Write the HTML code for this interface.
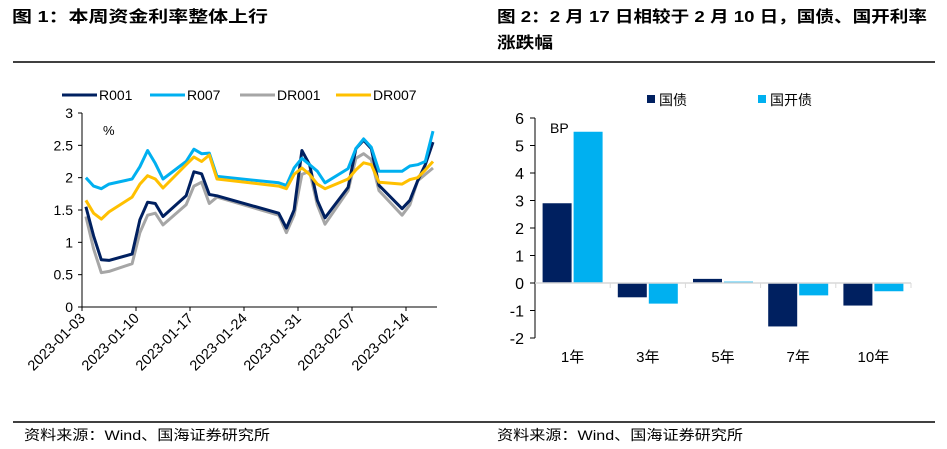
<!DOCTYPE html>
<html><head><meta charset="utf-8"><style>
html,body{margin:0;padding:0;background:#fff;}
svg{display:block;font-family:"Liberation Sans","Noto Sans CJK SC",sans-serif;}
</style></head><body>
<svg id="s" width="947" height="449" viewBox="0 0 947 449">
<text x="12" y="22" font-size="16" font-weight="bold" fill="#000" textLength="256" lengthAdjust="spacingAndGlyphs">图 1：本周资金利率整体上行</text>
<text x="497" y="22" font-size="16" font-weight="bold" fill="#000" textLength="430" lengthAdjust="spacingAndGlyphs">图 2：2 月 17 日相较于 2 月 10 日，国债、国开利率</text>
<text x="497" y="48" font-size="16" font-weight="bold" fill="#000" textLength="56" lengthAdjust="spacingAndGlyphs">涨跌幅</text>
<line x1="13" y1="62" x2="935" y2="62" stroke="#000" stroke-width="1.5"/>
<line x1="13" y1="422" x2="935" y2="422" stroke="#000" stroke-width="1.5"/>
<text x="24" y="440" font-size="14" fill="#000" textLength="246" lengthAdjust="spacingAndGlyphs">资料来源：Wind、国海证券研究所</text>
<text x="497" y="440" font-size="14" fill="#000" textLength="246" lengthAdjust="spacingAndGlyphs">资料来源：Wind、国海证券研究所</text>
<g id="lc"></g>
<g id="bc"></g>
</svg>
<script>
// ---- line chart data ----
const dayOffsets = [0,1,2,3,6,7,8,9,10,13,14,15,16,17,25,26,27,28,29,30,31,34,35,36,37,38,41,42,43,44,45];
const r001 = [1.55,1.1,0.73,0.72,0.82,1.35,1.62,1.6,1.4,1.72,2.09,2.06,1.74,1.72,1.45,1.22,1.5,2.42,2.2,1.65,1.38,1.85,2.45,2.58,2.45,1.88,1.52,1.65,1.95,2.2,2.55];
const r007 = [2.0,1.87,1.83,1.9,1.98,2.17,2.42,2.22,1.98,2.25,2.44,2.37,2.38,2.02,1.92,1.88,2.15,2.3,2.2,2.1,1.92,2.14,2.45,2.6,2.47,2.1,2.1,2.18,2.2,2.25,2.72];
const dr001 = [1.4,0.9,0.53,0.55,0.67,1.15,1.42,1.45,1.27,1.58,1.87,1.93,1.6,1.7,1.42,1.15,1.42,2.05,2.1,1.58,1.28,1.8,2.3,2.37,2.28,1.8,1.42,1.58,1.95,2.05,2.15];
const dr007 = [1.65,1.45,1.36,1.47,1.7,1.9,2.03,1.98,1.84,2.2,2.32,2.25,2.35,1.98,1.87,1.83,2.05,2.15,2.05,1.9,1.83,1.98,2.12,2.23,2.2,1.93,1.9,1.97,2.0,2.12,2.25];
const dateTicks = ["2023-01-03","2023-01-10","2023-01-17","2023-01-24","2023-01-31","2023-02-07","2023-02-14"];
const yTicks = [0,0.5,1,1.5,2,2.5,3];
// ---- bar chart data ----
const tenors = ["1年","3年","5年","7年","10年"];
const govBond = [2.9,-0.52,0.15,-1.58,-0.82];
const cdbBond = [5.5,-0.75,0.05,-0.45,-0.3];
const barTicks = [-2,-1,0,1,2,3,4,5,6];

const NS="http://www.w3.org/2000/svg";
function mk(parent,tag,attrs,text){const e=document.createElementNS(NS,tag);for(const k in attrs)e.setAttribute(k,attrs[k]);if(text!==undefined)e.textContent=text;parent.appendChild(e);return e;}

// line chart
const lc=document.getElementById('lc');
const X0=82,X1=437,Y0=307,Y3=113,dayW=54/7;
const lx=d=>X0+(d+0.5)*dayW;
const ly=v=>Y0-(v/3)*(Y0-Y3);
let e;
e=mk(lc,'line',{x1:X0,y1:Y3,x2:X0,y2:Y0,stroke:'#000','stroke-width':1});


e=mk(lc,'line',{x1:X0,y1:Y0,x2:X1,y2:Y0,stroke:'#000','stroke-width':1});


yTicks.forEach(t=>{
  mk(lc,'line',{x1:X0-4,y1:ly(t),x2:X0,y2:ly(t),stroke:'#000'});
  e=mk(lc,'text',{x:X0-9,y:ly(t)+5,'font-size':14,'text-anchor':'end',fill:'#000'},String(t));
  
  
});
dateTicks.forEach((t,i)=>{
  const x=X0+i*7*dayW;
  mk(lc,'line',{x1:x,y1:Y0,x2:x,y2:Y0+4,stroke:'#000'});
  e=mk(lc,'text',{x:x+4,y:Y0+12,'font-size':14.5,'text-anchor':'end',fill:'#000',transform:`rotate(-45 ${x+4} ${Y0+12})`},t);
  
  
});
e=mk(lc,'text',{x:103,y:135,'font-size':13,fill:'#000'},'%');


const series=[['R001',r001,'#002060'],['R007',r007,'#00B0F0'],['DR001',dr001,'#A6A6A6'],['DR007',dr007,'#FFC000']];
const drawOrder=[2,0,1,3];
drawOrder.forEach(i=>{
  const [name,vals,col]=series[i];
  const pts=vals.map((v,j)=>lx(dayOffsets[j]).toFixed(1)+','+ly(v).toFixed(1)).join(' ');
  e=mk(lc,'polyline',{points:pts,fill:'none',stroke:col,'stroke-width':3,'stroke-linejoin':'round'});
  
  
});
const legX=[62,150,240,336];
series.forEach(([name,vals,col],i)=>{
  const g=mk(lc,'g',{});
  
  
  mk(g,'line',{x1:legX[i],y1:95,x2:legX[i]+35,y2:95,stroke:col,'stroke-width':3});
  mk(g,'text',{x:legX[i]+37,y:100,'font-size':14,fill:'#000'},name);
});

// bar chart
const bc=document.getElementById('bc');
const BX0=535,BX1=911,BZ=283,unit=27.5;
const by=v=>BZ-v*unit;
const catW=(BX1-BX0)/5;
e=mk(bc,'line',{x1:BX0,y1:by(6),x2:BX0,y2:by(-2),stroke:'#000'});


barTicks.forEach(t=>{
  mk(bc,'line',{x1:BX0-5,y1:by(t),x2:BX0,y2:by(t),stroke:'#000'});
  e=mk(bc,'text',{x:BX0-11,y:by(t)+6,'font-size':16,'text-anchor':'end',fill:'#000'},String(t));
  
  
});
tenors.forEach((c,i)=>{
  const cx=BX0+catW*(i+0.5);
  const bw=29,gap=2;
  [[govBond[i],'#002060',cx-bw-gap/2,'gov'],[cdbBond[i],'#00B0F0',cx+gap/2,'cdb']].forEach(([v,col,x,k])=>{
    e=mk(bc,'rect',{x:x,y:Math.min(by(v),BZ),width:bw,height:Math.abs(v)*unit,fill:col});
    
    
  });
  mk(bc,'line',{x1:BX0+catW*(i+1),y1:BZ,x2:BX0+catW*(i+1),y2:BZ+5,stroke:'#D9D9D9'});
  e=mk(bc,'text',{x:cx,y:BZ+79,'font-size':15,'text-anchor':'middle',fill:'#000'},c);
  
  
});
e=mk(bc,'line',{x1:BX0,y1:BZ,x2:BX1,y2:BZ,stroke:'#D9D9D9','stroke-width':1.5});


e=mk(bc,'text',{x:550,y:133,'font-size':14,fill:'#000'},'BP');


[['国债','#002060',647,'gov'],['国开债','#00B0F0',758,'cdb']].forEach(([n,col,x,k])=>{
  const g=mk(bc,'g',{});
  
  
  mk(g,'rect',{x:x,y:95,width:8,height:8,fill:col});
  mk(g,'text',{x:x+12,y:105,'font-size':14,fill:'#000'},n);
});
</script>
</body></html>
